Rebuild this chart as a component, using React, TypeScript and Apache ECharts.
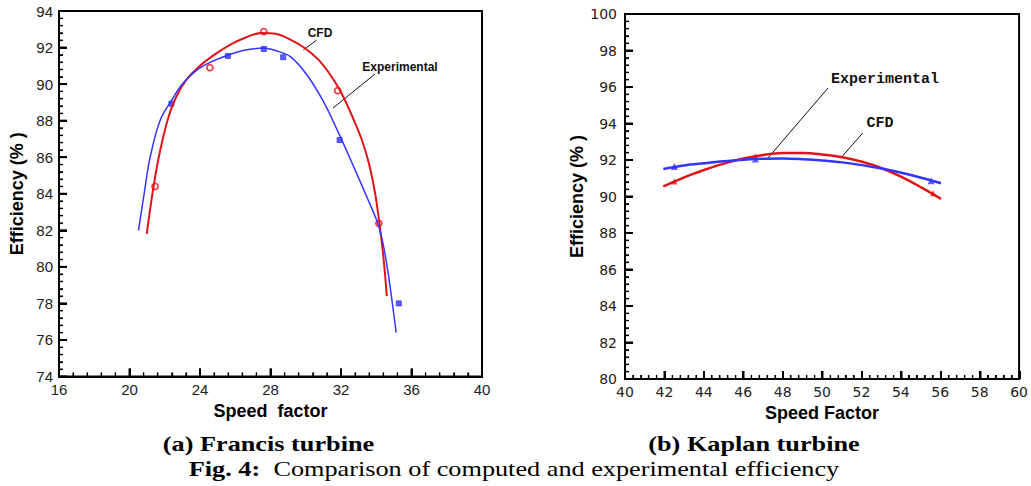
import React, { useEffect, useRef } from "react";
import * as echarts from "echarts";

// Francis turbine (a)
const francisCfdPoints: number[][] = [[21.45, 84.4], [24.56, 90.9], [27.62, 92.87], [31.81, 89.64], [34.15, 82.38]];
const francisExpPoints: number[][] = [[22.38, 88.93], [25.58, 91.54], [27.62, 91.92], [28.72, 91.47], [31.92, 86.94], [35.28, 78.0]];
const francisCfdCurve: number[][] = [
  [20.98, 81.8], [21.3, 84.0], [21.66, 86.0], [22.15, 88.0], [22.6, 89.2], [23.2, 90.2], [24.0, 91.0],
  [24.8, 91.6], [25.7, 92.15], [26.6, 92.55], [27.5, 92.8], [28.3, 92.75], [29.1, 92.45], [29.9, 92.0],
  [30.7, 91.35], [31.4, 90.5], [32.0, 89.55], [32.7, 88.1], [33.2, 86.9], [33.6, 85.6], [33.94, 84.0],
  [34.15, 82.6], [34.4, 80.6], [34.6, 78.4],
];
const francisExpCurve: number[][] = [
  [20.51, 82.0], [20.83, 84.0], [21.17, 86.0], [21.73, 88.0], [22.38, 89.1], [23.0, 90.0], [23.8, 90.75],
  [24.6, 91.2], [25.5, 91.55], [26.5, 91.85], [27.6, 91.97], [28.4, 91.8], [29.13, 91.5], [30.07, 90.5],
  [31.0, 89.05], [31.9, 87.25], [32.8, 85.3], [33.5, 83.75], [33.9, 82.85], [34.15, 82.2], [34.4, 81.2],
  [34.7, 79.5], [35.13, 76.4],
];

// Kaplan turbine (b)
const kaplanCfdPoints: number[][] = [[42.5, 90.82], [46.6, 92.2], [55.6, 90.18]];
const kaplanExpPoints: number[][] = [[42.5, 91.64], [46.6, 92.05], [55.5, 90.86]];
const kaplanCfdCurve: number[][] = [
  [41.94, 90.55], [43.0, 91.05], [44.0, 91.45], [45.0, 91.8], [46.0, 92.08], [47.0, 92.28], [48.0, 92.38],
  [49.0, 92.38], [50.0, 92.3], [51.0, 92.15], [52.0, 91.9], [53.0, 91.55], [54.0, 91.08], [55.0, 90.5],
  [56.0, 89.87],
];
const kaplanExpCurve: number[][] = [
  [41.94, 91.51], [43.0, 91.7], [44.0, 91.82], [45.0, 91.93], [46.0, 92.02], [47.0, 92.07], [48.0, 92.08],
  [49.0, 92.04], [50.0, 91.97], [51.0, 91.87], [52.0, 91.72], [53.0, 91.53], [54.0, 91.3], [55.0, 91.03],
  [56.0, 90.73],
];

// Axis tick values (major); minor ticks split each step into 5
const francisXTicks = [16, 20, 24, 28, 32, 36, 40];
const francisYTicks = [74, 76, 78, 80, 82, 84, 86, 88, 90, 92, 94];
const kaplanXTicks = [40, 42, 44, 46, 48, 50, 52, 54, 56, 58, 60];
const kaplanYTicks = [80, 82, 84, 86, 88, 90, 92, 94, 96, 98, 100];

const captionA = "(a) Francis turbine";
const captionB = "(b) Kaplan turbine";
const figLabel = "Fig. 4:";
const figText = "Comparison of computed and experimental efficiency";

const RED = "#e01418";
const BLUE = "#3434ff";

const GRIDS: any[] = [
  { left: 59, top: 11, width: 423, height: 365.5 },
  { left: 625, top: 14, width: 395, height: 365 },
];

function tickList(major: number[]): number[][] {
  const out: number[][] = [];
  for (let i = 0; i < major.length; i++) {
    out.push([major[i], 1]);
    if (i < major.length - 1) {
      const step = (major[i + 1] - major[i]) / 5;
      for (let k = 1; k < 5; k++) out.push([major[i] + step * k, 0]);
    }
  }
  return out;
}

function axisCommon(font: string, size: number, margin: number): any {
  return {
    show: true,
    axisLine: { show: true, onZero: false, lineStyle: { color: "#000000", width: 2 } },
    axisTick: { show: true, inside: true, length: 8, lineStyle: { color: "#000000", width: 2 } },
    minorTick: { show: true, splitNumber: 5, length: 4, lineStyle: { color: "#000000", width: 1.2 } },
    splitLine: { show: false },
    minorSplitLine: { show: false },
    axisLabel: { show: true, color: "#222", fontFamily: font, fontSize: size, margin },
  };
}

function xTickSeries(gridIdx: number, ticks: number[], yMin: number): any {
  return {
    type: "custom", xAxisIndex: gridIdx, yAxisIndex: gridIdx, silent: true, clip: false,
    encode: { x: 0, y: 1 },
    data: tickList(ticks).map((t) => [t[0], yMin, t[1]]),
    renderItem: (_p: any, api: any) => {
      const pt = api.coord([api.value(0), api.value(1)]);
      const major = api.value(2) === 1;
      return {
        type: "line",
        shape: { x1: pt[0], y1: pt[1], x2: pt[0], y2: pt[1] - (major ? 8 : 4) },
        style: { stroke: "#000", lineWidth: major ? 2 : 1.2 },
      };
    },
  };
}

function yTickSeries(gridIdx: number, ticks: number[], xMin: number): any {
  return {
    type: "custom", xAxisIndex: gridIdx, yAxisIndex: gridIdx, silent: true, clip: false,
    encode: { x: 0, y: 1 },
    data: tickList(ticks).map((t) => [xMin, t[0], t[1]]),
    renderItem: (_p: any, api: any) => {
      const pt = api.coord([api.value(0), api.value(1)]);
      const major = api.value(2) === 1;
      return {
        type: "line",
        shape: { x1: pt[0], y1: pt[1], x2: pt[0] + (major ? 8 : 4), y2: pt[1] },
        style: { stroke: "#000", lineWidth: major ? 2 : 1.2 },
      };
    },
  };
}

export default function App() {
  const axesRef = useRef<HTMLDivElement>(null);
  const dataRef = useRef<HTMLDivElement>(null);
  useEffect(() => {
    if (!axesRef.current || !dataRef.current) return;
    const nameStyle = { color: "#000", fontFamily: "Liberation Sans", fontWeight: "bold", fontSize: 18 };
    const xRanges = [
      { min: francisXTicks[0], max: francisXTicks[francisXTicks.length - 1], interval: 4 },
      { min: kaplanXTicks[0], max: kaplanXTicks[kaplanXTicks.length - 1], interval: 2 },
    ];
    const yRanges = [
      { min: francisYTicks[0], max: francisYTicks[francisYTicks.length - 1], interval: 2 },
      { min: kaplanYTicks[0], max: kaplanYTicks[kaplanYTicks.length - 1], interval: 2 },
    ];

    // Frame: grids and axes
    const axesChart = echarts.init(axesRef.current, undefined, { renderer: "svg" });
    axesChart.setOption({
      animation: false,
      grid: GRIDS.map((g) => ({ ...g, show: true, borderColor: "#000", borderWidth: 2 })),
      xAxis: [
        {
          gridIndex: 0, type: "value", ...xRanges[0],
          name: "Speed  factor", nameLocation: "middle", nameGap: 25, nameTextStyle: nameStyle,
          ...axisCommon("Liberation Sans", 15, 5),
        },
        {
          gridIndex: 1, type: "value", ...xRanges[1],
          name: "Speed Factor", nameLocation: "middle", nameGap: 19, nameTextStyle: nameStyle,
          ...axisCommon("DejaVu Sans", 14, 6),
        },
      ],
      yAxis: [
        {
          gridIndex: 0, type: "value", ...yRanges[0],
          name: "Efficiency (% )", nameLocation: "middle", nameGap: 33, nameRotate: 90, nameTextStyle: nameStyle,
          ...axisCommon("Liberation Sans", 15, 6),
        },
        {
          gridIndex: 1, type: "value", ...yRanges[1],
          name: "Efficiency (% )", nameLocation: "middle", nameGap: 37, nameRotate: 90, nameTextStyle: nameStyle,
          ...axisCommon("DejaVu Sans", 14, 8),
        },
      ],
    });

    // Data layer: ticks, curves, markers, annotations
    const dataChart = echarts.init(dataRef.current, undefined, { renderer: "svg" });
    dataChart.setOption({
      animation: false,
      grid: GRIDS.map((g) => ({ ...g, show: false })),
      xAxis: [
        { gridIndex: 0, type: "value", ...xRanges[0], show: false },
        { gridIndex: 1, type: "value", ...xRanges[1], show: false },
      ],
      yAxis: [
        { gridIndex: 0, type: "value", ...yRanges[0], show: false },
        { gridIndex: 1, type: "value", ...yRanges[1], show: false },
      ],
      series: [
        xTickSeries(0, francisXTicks, francisYTicks[0]),
        yTickSeries(0, francisYTicks, francisXTicks[0]),
        xTickSeries(1, kaplanXTicks, kaplanYTicks[0]),
        yTickSeries(1, kaplanYTicks, kaplanXTicks[0]),
        {
          type: "line", xAxisIndex: 0, yAxisIndex: 0, data: francisCfdCurve, smooth: 0.35, showSymbol: false,
          lineStyle: { color: RED, width: 2 },
        },
        {
          type: "line", xAxisIndex: 0, yAxisIndex: 0, data: francisExpCurve, smooth: 0.35, showSymbol: false,
          lineStyle: { color: BLUE, width: 1.5 },
        },
        {
          type: "scatter", xAxisIndex: 0, yAxisIndex: 0, data: francisCfdPoints, symbol: "circle", symbolSize: 6,
          itemStyle: { color: "#fff", borderColor: RED, borderWidth: 1.8 },
        },
        {
          type: "scatter", xAxisIndex: 0, yAxisIndex: 0, data: francisExpPoints, symbol: "rect", symbolSize: 5,
          itemStyle: { color: BLUE, borderColor: BLUE, borderWidth: 1 },
        },
        {
          type: "line", xAxisIndex: 1, yAxisIndex: 1, data: kaplanCfdCurve, smooth: 0.35, showSymbol: false,
          lineStyle: { color: RED, width: 2.5 },
        },
        {
          type: "line", xAxisIndex: 1, yAxisIndex: 1, data: kaplanExpCurve, smooth: 0.35, showSymbol: false,
          lineStyle: { color: BLUE, width: 2.5 },
        },
        {
          type: "scatter", xAxisIndex: 1, yAxisIndex: 1, data: kaplanCfdPoints, symbol: "triangle", symbolSize: 6,
          itemStyle: { color: RED },
        },
        {
          type: "scatter", xAxisIndex: 1, yAxisIndex: 1, data: kaplanExpPoints, symbol: "triangle", symbolSize: 7,
          itemStyle: { color: BLUE },
        },
      ],
      graphic: [
        // Francis annotations
        { type: "text", x: 320, y: 33, style: { text: "CFD", x: 0, y: 0, align: "center", verticalAlign: "middle", fill: "#111", font: "bold 12px 'Liberation Sans'" } },
        { type: "line", shape: { x1: 316.7, y1: 40, x2: 303.3, y2: 50 }, style: { stroke: "#111", lineWidth: 1 } },
        { type: "text", x: 400, y: 67, style: { text: "Experimental", x: 0, y: 0, align: "center", verticalAlign: "middle", fill: "#111", font: "bold 12px 'Liberation Sans'" } },
        { type: "line", shape: { x1: 375, y1: 74, x2: 333, y2: 108 }, style: { stroke: "#111", lineWidth: 1 } },
        // Kaplan annotations
        { type: "text", x: 885, y: 79, style: { text: "Experimental", x: 0, y: 0, align: "center", verticalAlign: "middle", fill: "#111", font: "bold 15px 'Liberation Mono'" } },
        { type: "line", shape: { x1: 828, y1: 88, x2: 768, y2: 158 }, style: { stroke: "#111", lineWidth: 1 } },
        { type: "text", x: 880, y: 123, style: { text: "CFD", x: 0, y: 0, align: "center", verticalAlign: "middle", fill: "#111", font: "bold 15px 'Liberation Mono'" } },
        { type: "line", shape: { x1: 862.7, y1: 133, x2: 841.7, y2: 157 }, style: { stroke: "#111", lineWidth: 1 } },
        // Captions
        { type: "text", x: 268.5, y: 443.5, scaleX: 1.25, style: { text: captionA, x: 0, y: 0, align: "center", verticalAlign: "middle", fill: "#000", font: "bold 21px 'Liberation Serif'" } },
        { type: "text", x: 754, y: 443.5, scaleX: 1.25, style: { text: captionB, x: 0, y: 0, align: "center", verticalAlign: "middle", fill: "#000", font: "bold 21px 'Liberation Serif'" } },
        {
          type: "text", x: 514, y: 468.5, scaleX: 1.25,
          style: {
            text: "{b|" + figLabel + "}  " + figText, x: 0, y: 0, align: "center", verticalAlign: "middle", fill: "#000",
            font: "21px 'Liberation Serif'",
            rich: { b: { fontWeight: "bold", fontFamily: "Liberation Serif", fontSize: 21, fill: "#000" } },
          },
        },
      ],
    });
    return () => {
      dataChart.dispose();
      axesChart.dispose();
    };
  }, []);
  return (
    <div style={{ position: "fixed", left: 0, top: 0, width: 1031, height: 486, background: "#fff" }}>
      <div ref={axesRef} style={{ position: "absolute", left: 0, top: 0, width: 1031, height: 486 }} />
      <div ref={dataRef} style={{ position: "absolute", left: 0, top: 0, width: 1031, height: 486, pointerEvents: "none" }} />
    </div>
  );
}
